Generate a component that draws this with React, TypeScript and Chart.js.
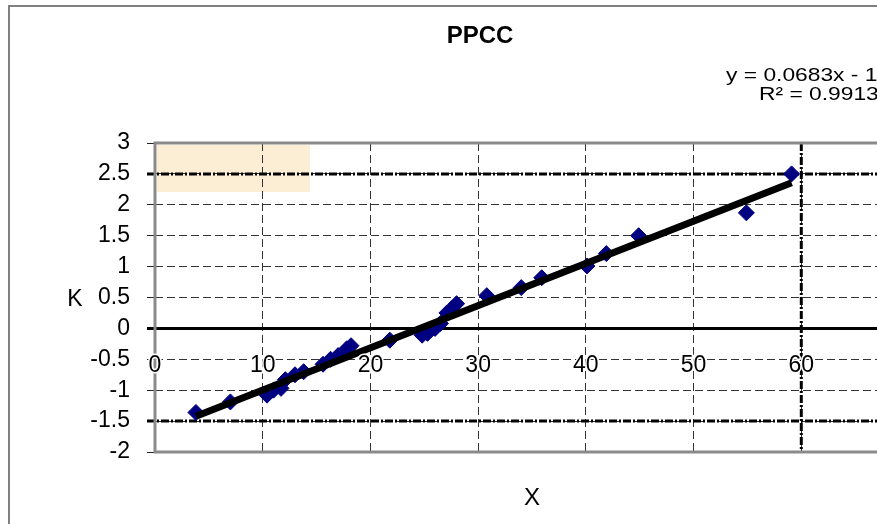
import React, { useEffect, useRef } from "react";
import { Chart, registerables } from "chart.js";

Chart.register(...registerables);

// ---- data ----
const xValues = [
  3.8, 7.0, 10.4, 11.0, 11.7, 12.1, 13.0, 13.8, 15.6, 16.3, 17.0, 17.8, 18.2,
  21.8, 24.8, 25.3, 26.0, 26.5, 27.1, 27.6, 28.0, 30.8, 34.0, 35.9, 40.1, 41.9,
  44.9, 54.9, 59.1,
];
const kValues = [
  -1.36, -1.19, -1.08, -1.0, -0.97, -0.83, -0.75, -0.7, -0.58, -0.5, -0.44,
  -0.33, -0.28, -0.19, -0.11, -0.08, 0.0, 0.08, 0.25, 0.33, 0.4, 0.53, 0.66,
  0.82, 1.01, 1.21, 1.5, 1.87, 2.5,
];
const trendSlope = 0.0683;
const trendIntercept = -1.6805;
const rSquaredText = "0.9913";
const chartTitle = "PPCC";
const xAxisTitle = "X";
const yAxisTitle = "K";
const xMin = 0;
const xMax = 70;
const xStep = 10;
const yMin = -2;
const yMax = 3;
const yStep = 0.5;
const highlightY = [2.5, -1.5];
const highlightX = [60];

const W = 945;
const H = 560;
const FONT = "'Liberation Sans', Arial, sans-serif";

function stretchedText(ctx: any, text: string, x: number, y: number, sx: number) {
  ctx.save();
  ctx.translate(x, y);
  ctx.scale(sx, 1);
  ctx.fillText(text, 0, 0);
  ctx.restore();
}

const decorPlugin = {
  id: "decor",
  beforeDraw(chart: any) {
    const { ctx, chartArea: a } = chart;
    ctx.save();
    ctx.fillStyle = "#ffffff";
    ctx.fillRect(0, 0, W, H);
    ctx.strokeStyle = "#808080";
    ctx.lineWidth = 2;
    ctx.strokeRect(1, 1, W - 2, H - 2);
    // faded legend patch
    ctx.fillStyle = "#fcedd5";
    ctx.fillRect(a.left + 2, a.top + 2, 153, 47);
    ctx.restore();
  },
  beforeDatasetsDraw(chart: any) {
    const { ctx, chartArea: a, scales } = chart;
    const xs = scales.x;
    const ys = scales.y;
    ctx.save();
    const y0 = ys.getPixelForValue(0);
    ctx.strokeStyle = "#000";
    ctx.lineWidth = 3;
    ctx.beginPath();
    ctx.moveTo(a.left - 8, y0);
    ctx.lineTo(a.right, y0);
    ctx.stroke();
    ctx.setLineDash([8, 2, 2, 2]);
    for (const v of highlightY) {
      const py = ys.getPixelForValue(v);
      ctx.beginPath();
      ctx.moveTo(a.left - 8, py);
      ctx.lineTo(a.right, py);
      ctx.stroke();
    }
    for (const v of highlightX) {
      const px = xs.getPixelForValue(v);
      ctx.beginPath();
      ctx.moveTo(px, a.top);
      ctx.lineTo(px, a.bottom);
      ctx.stroke();
    }
    ctx.setLineDash([]);
    ctx.strokeStyle = "#8a8a8a";
    ctx.lineWidth = 3;
    ctx.beginPath();
    ctx.moveTo(a.right + 2, a.top);
    ctx.lineTo(a.left, a.top);
    ctx.lineTo(a.left, a.bottom);
    ctx.lineTo(a.right + 2, a.bottom);
    ctx.stroke();
    ctx.restore();
  },
  afterDatasetsDraw(chart: any) {
    const { ctx, scales } = chart;
    const xs = scales.x;
    const ys = scales.y;
    const py = ys.getPixelForValue(0) + 37;
    ctx.save();
    ctx.font = `23px ${FONT}`;
    ctx.textAlign = "center";
    ctx.textBaseline = "middle";
    for (const t of xs.ticks) {
      const px = xs.getPixelForValue(t.value);
      const label = String(t.value);
      ctx.strokeStyle = "#fff";
      ctx.lineWidth = 3;
      ctx.strokeText(label, px, py);
      ctx.fillStyle = "#000";
      ctx.fillText(label, px, py);
    }
    ctx.restore();
  },
  afterDraw(chart: any) {
    const { ctx, chartArea: a } = chart;
    ctx.save();
    ctx.fillStyle = "#000";
    ctx.textBaseline = "middle";
    ctx.textAlign = "center";
    ctx.font = `bold 24px ${FONT}`;
    ctx.fillText(chartTitle, 472, 31);
    ctx.font = `19px ${FONT}`;
    ctx.textAlign = "left";
    const sign = trendIntercept < 0 ? "-" : "+";
    stretchedText(
      ctx,
      `y = ${trendSlope}x ${sign} ${Math.abs(trendIntercept)}`,
      718,
      71,
      1.2
    );
    stretchedText(ctx, `R² = ${rSquaredText}`, 751, 90, 1.2);
    ctx.textAlign = "center";
    ctx.font = `23px ${FONT}`;
    ctx.fillText(yAxisTitle, 67, (a.top + a.bottom) / 2 + 2);
    ctx.font = `24px ${FONT}`;
    ctx.fillText(xAxisTitle, (a.left + a.right) / 2, 493);
    ctx.restore();
  },
};

export default function App() {
  const canvasRef = useRef<HTMLCanvasElement | null>(null);

  useEffect(() => {
    const canvas = canvasRef.current;
    if (!canvas) return;
    const points = xValues.map((x, i) => ({ x, y: kValues[i] }));
    const tMin = Math.min(...xValues);
    const tMax = Math.max(...xValues);
    const trend = [tMin, tMax].map((x) => ({
      x,
      y: trendSlope * x + trendIntercept,
    }));

    const chart = new Chart(canvas, {
      type: "scatter",
      data: {
        datasets: [
          {
            type: "line",
            label: "trend",
            data: trend,
            borderColor: "#000",
            borderWidth: 7,
            pointRadius: 0,
            fill: false,
            order: 0,
          } as any,
          {
            label: "K",
            data: points,
            pointStyle: "rectRot",
            pointRadius: 8,
            backgroundColor: "#000080",
            borderColor: "#000080",
            borderWidth: 1,
            order: 1,
          },
        ],
      },
      options: {
        responsive: false,
        animation: false,
        devicePixelRatio: 1,
        events: [],
        layout: { padding: { top: 138, right: 44, bottom: 0, left: 0 } },
        plugins: {
          legend: { display: false },
          tooltip: { enabled: false },
          title: { display: false },
        },
        scales: {
          x: {
            type: "linear",
            min: xMin,
            max: xMax,
            ticks: { stepSize: xStep, display: false },
            grid: {
              color: "#333",
              lineWidth: 1,
              drawTicks: false,
            },
            border: { display: false, dash: [8, 4] },
            afterFit: (s: any) => {
              s.height = 113;
            },
          },
          y: {
            type: "linear",
            min: yMin,
            max: yMax,
            ticks: {
              stepSize: yStep,
              color: "#000",
              font: { family: FONT, size: 23 },
              padding: 17,
              callback: (v: any) => String(v),
            },
            grid: {
              color: "#333",
              lineWidth: 1,
              drawTicks: true,
              tickLength: 8,
              tickColor: "#222",
            },
            border: { display: false, dash: [8, 4] },
            afterFit: (s: any) => {
              s.width = 147;
            },
          },
        },
      },
      plugins: [decorPlugin],
    });
    return () => chart.destroy();
  }, []);

  return (
    <div
      style={{
        position: "fixed",
        left: 0,
        top: 0,
        width: 877,
        height: 524,
        overflow: "hidden",
        background: "#fff",
      }}
    >
      <canvas
        ref={canvasRef}
        width={W}
        height={H}
        style={{ position: "absolute", left: 8, top: 5, width: W, height: H }}
      />
    </div>
  );
}
